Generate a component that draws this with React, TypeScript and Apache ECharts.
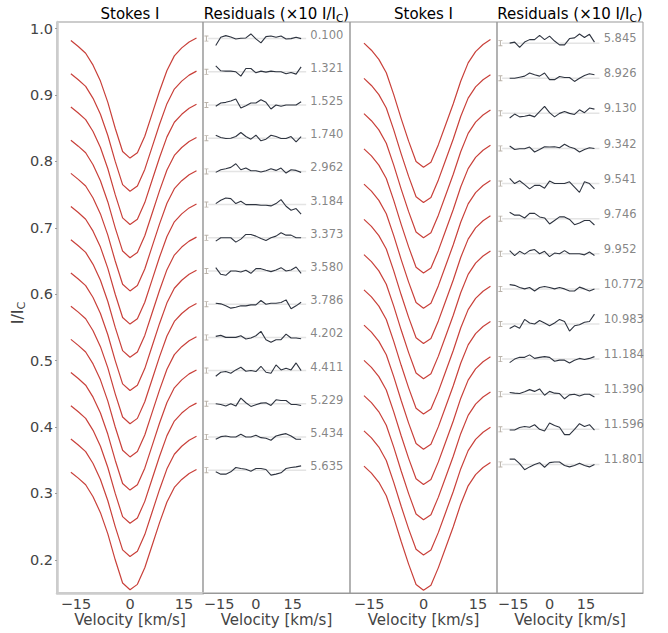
import React, { useEffect, useRef } from "react";
import * as echarts from "echarts";

// Velocity grid (km/s)
const velocity = [-16.4, -14.35, -12.3, -10.25, -8.2, -6.15, -4.1, -2.05, 0, 2.05, 4.1, 6.15, 8.2, 10.25, 12.3, 14.35, 16.4, 18.45];

// Top Stokes I profile of each column (I/Ic); lower profiles are offset by profileStep
const leftProfile = [0.982, 0.973, 0.963, 0.945, 0.921, 0.889, 0.85, 0.815, 0.805, 0.813, 0.838, 0.872, 0.906, 0.937, 0.959, 0.971, 0.98, 0.986];
const rightProfile = [0.98, 0.97, 0.957, 0.938, 0.907, 0.873, 0.841, 0.812, 0.804, 0.811, 0.836, 0.865, 0.894, 0.926, 0.952, 0.968, 0.978, 0.985];
const profileStep = 0.05;

// Rotation phases (labels)
const leftPhases = ["0.100", "1.321", "1.525", "1.740", "2.962", "3.184", "3.373", "3.580", "3.786", "4.202", "4.411", "5.229", "5.434", "5.635"];
const rightPhases = ["5.845", "8.926", "9.130", "9.342", "9.541", "9.746", "9.952", "10.772", "10.983", "11.184", "11.390", "11.596", "11.801"];

// Residuals (units of residScale)
const leftResiduals = [
  [-21, 4, 9, 5, -1, 1, 2, 14, -1, -13, 6, 8, 4, 8, -1, 0, 4, 0],
  [18, 3, 2, 2, 0, -13, 10, 10, -3, 2, -1, 2, 0, 0, -6, -2, -7, 15],
  [-4, 6, 8, 12, 18, -9, -2, 6, 6, 16, 8, -12, 0, -4, 0, 0, 0, 10],
  [9, 2, -1, 0, 5, 17, 5, -3, 9, -8, -3, 9, 5, -1, -1, 5, -11, 5],
  [-3, 5, 8, 12, 23, 5, 10, 2, 2, -2, 2, 8, 3, 10, -5, 5, 3, -3],
  [3, 13, 20, 18, 3, 10, 0, 0, 0, -2, -2, -4, 3, 15, -5, -17, -12, -29],
  [-10, 0, 0, 0, -13, -4, 10, 10, 5, -2, -8, 0, 5, 15, 8, 8, 0, 0],
  [10, -10, -13, 0, 0, -3, 2, -7, 7, 7, 2, -2, 3, 10, 0, 3, 12, -7],
  [3, 1, -5, -12, -9, -5, -5, -2, -2, 11, 0, 3, 3, 5, 13, -14, -5, 6],
  [3, 6, 0, 0, 0, 5, -5, -2, 5, 18, -7, -15, -7, -7, 10, -2, -2, -4],
  [-17, -5, -3, -8, 2, 10, -2, 0, -3, 13, -5, -8, 17, 2, 7, 2, 23, 0],
  [0, -2, -7, 0, -7, 17, 3, -8, -3, 2, 3, -5, 12, 10, 10, -2, -2, -5],
  [-7, 1, 3, 0, 0, 8, 0, 0, 5, -2, -4, -10, 3, 7, 10, 3, -7, -7],
  [-5, -12, -12, -5, 8, 5, 3, -3, 5, 5, 2, -15, -12, -8, 5, 8, 10, 13],
];
const rightResiduals = [
  [0, 3, -12, 3, 10, 10, 22, 10, 20, 6, -5, -5, 13, 15, 26, 16, 25, 3],
  [0, 0, 3, 6, 15, 10, 6, 15, -4, -4, 5, 2, 2, -9, 0, 8, 13, 10],
  [-13, -2, -10, -8, -5, -10, 5, 20, 2, -10, 0, 5, 0, -3, 10, 2, 15, 12],
  [7, -3, -1, -1, 4, -10, -3, 5, 4, 5, 2, 12, 4, 0, -10, -3, 2, 0],
  [15, 0, 8, -3, -15, -5, -5, -13, 7, 0, 0, 0, 5, -10, -25, 5, 0, -15],
  [18, 10, 10, 2, 15, 15, 5, 2, -15, -5, 5, 5, -2, -17, -12, -5, -5, -18],
  [9, -5, 7, -1, 9, 12, 0, 7, -8, 2, 0, 9, 0, 0, 0, -3, 5, -5],
  [12, 10, 4, 0, 4, -6, 4, 7, 4, 0, 4, 0, -6, -6, 5, 0, -6, 0],
  [-13, -5, -12, 13, 3, 0, 10, 3, -5, 3, 13, 7, -20, -5, -2, 5, 7, 28],
  [-10, 0, 5, 5, 12, 2, 5, 7, 5, -6, -3, -3, -11, -3, 2, -1, 2, 7],
  [5, 3, 2, 7, 13, 8, 15, -3, 8, 3, 2, -13, -2, 0, -5, 0, 0, -8],
  [-2, -2, 5, 8, 6, 13, 0, -5, 18, 11, 6, -15, -15, 0, 16, 8, 13, -2],
  [15, 15, 2, -15, -7, 0, 5, -8, 5, 7, 7, -3, -7, -3, 3, -3, -7, 0],
];
const residScale = 0.0005;
const leftResidTop = 0.985;
const rightResidTop = 0.98;
const leftResidStep = 0.05;
const rightResidStep = 0.0498;
const errorBarVel = -20.2;
const labelVel = 22.2;
const zeroLine = [-19.5, 20.5];

const yTicks = [0.2, 0.3, 0.4, 0.5, 0.6, 0.7, 0.8, 0.9, 1.0];
const xTicks = [-15, 0, 15];

const FONT = "DejaVu Sans";
const RED = "#c9403a";
const DARK = "#2e3440";
const ERRBAR = "path://M0,0L6,0L6,1.5L3.75,1.5L3.75,8.5L6,8.5L6,10L0,10L0,8.5L2.25,8.5L2.25,1.5L0,1.5Z";

function fmtX(v: number) {
  return v < 0 ? "\u2212" + Math.abs(v) : String(v);
}

function buildOption() {
  const series: any[] = [];

  const addProfiles = (profile: number[], n: number, xi: number) => {
    for (let i = 0; i < n; i++) {
      series.push({
        type: "line",
        xAxisIndex: xi,
        yAxisIndex: xi,
        data: velocity.map((v, k) => [v, profile[k] - profileStep * i]),
        symbol: "none",
        silent: true,
        lineStyle: { color: RED, width: 1.2 },
        z: 3,
      });
    }
  };
  addProfiles(leftProfile, leftPhases.length, 0);
  addProfiles(rightProfile, rightPhases.length, 2);

  const addResiduals = (res: number[][], phases: string[], top: number, step: number, xi: number, labOff: number) => {
    const bases = phases.map((_, i) => top - step * i);
    bases.forEach((b, i) => {
      series.push({
        type: "line",
        xAxisIndex: xi,
        yAxisIndex: xi,
        data: zeroLine.map((v) => [v, b]),
        symbol: "none",
        silent: true,
        lineStyle: { color: "#e4e4e4", width: 1.5 },
        z: 1,
      });
      series.push({
        type: "line",
        xAxisIndex: xi,
        yAxisIndex: xi,
        data: velocity.map((v, k) => [v, b + res[i][k] * residScale]),
        symbol: "none",
        silent: true,
        lineStyle: { color: DARK, width: 1.1 },
        z: 3,
      });
    });
    series.push({
      type: "scatter",
      xAxisIndex: xi,
      yAxisIndex: xi,
      data: bases.map((b) => [errorBarVel, b]),
      symbol: ERRBAR,
      symbolSize: [4, 6],
      itemStyle: { color: "#a89f94" },
      silent: true,
      z: 2,
    });
    series.push({
      type: "scatter",
      xAxisIndex: xi,
      yAxisIndex: xi,
      data: bases.map((b, i) => ({ value: [labelVel, b + labOff], name: phases[i] })),
      symbolSize: 0.1,
      itemStyle: { color: "rgba(0,0,0,0)" },
      silent: true,
      label: {
        show: true,
        position: "right",
        distance: 0,
        formatter: (p: any) => p.name,
        fontSize: 11.5,
        fontFamily: FONT,
        color: "#666",
      },
      z: 4,
    });
  };
  addResiduals(leftResiduals, leftPhases, leftResidTop, leftResidStep, 1, 0.006);
  addResiduals(rightResiduals, rightPhases, rightResidTop, rightResidStep, 3, 0.007);

  const gridBase = { top: 22, height: 571, show: true, borderColor: "#999", borderWidth: 1, backgroundColor: "transparent" };
  const grids = [
    { ...gridBase, left: 57, width: 146 },
    { ...gridBase, left: 203, width: 147 },
    { ...gridBase, left: 350, width: 147 },
    { ...gridBase, left: 497, width: 146 },
  ];

  const xAxes = [0, 1, 2, 3].map((i) => ({
    type: "value",
    gridIndex: i,
    min: i % 2 === 0 ? -20.25 : -21.6,
    max: i % 2 === 0 ? 20.25 : 38.4,
    axisLine: { show: true, onZero: false, lineStyle: { color: i === 0 ? "#cccccc" : "#999999", width: i === 0 ? 2.5 : 1 } },
    axisTick: { show: false },
    splitLine: { show: false },
    axisLabel: {
      customValues: xTicks,
      formatter: fmtX,
      fontSize: 14.5,
      fontFamily: FONT,
      color: "#444",
      margin: 3,
    },
  }));

  const yAxes = [0, 1, 2, 3].map((i) => ({
    type: "value",
    gridIndex: i,
    min: i < 2 ? 0.15 : 0.2,
    max: 1.01,
    axisLine: { show: i === 0, onZero: false, lineStyle: { color: "#cccccc", width: 2.5 } },
    axisTick: { show: i === 0, customValues: yTicks, length: 2, lineStyle: { color: "#999" } },
    splitLine: { show: false },
    axisLabel: {
      show: i === 0,
      customValues: yTicks,
      formatter: (v: number) => v.toFixed(1),
      fontSize: 14.5,
      fontFamily: FONT,
      color: "#444",
      margin: 4,
    },
  }));

  const txt = (x: number, y: number, text: string, size: number, color: string) => ({
    type: "text",
    x,
    y,
    silent: true,
    style: {
      text,
      fill: color,
      font: `${size}px "${FONT}"`,
      align: "center",
      verticalAlign: "middle",
      textAlign: "center",
      textVerticalAlign: "middle",
    },
  });

  const richTitle = (x: number, y: number, main: string, tail: string, rotation = 0, size = 15, color = "#000") => ({
    type: "text",
    x,
    y,
    rotation,
    silent: true,
    style: {
      text: `{a|${main}}{s|C}{a|${tail}}`,
      align: "center",
      verticalAlign: "middle",
      textAlign: "center",
      textVerticalAlign: "middle",
      rich: {
        a: { fontSize: size, fontFamily: FONT, fill: color, color },
        s: { fontSize: size * 0.7, fontFamily: FONT, fill: color, color, padding: [8, 0, 0, 0] },
      },
    },
  });

  const graphic = [
    txt(130, 14, "Stokes I", 15, "#000"),
    txt(423.5, 14, "Stokes I", 15, "#000"),
    richTitle(276.5, 14, "Residuals (\u00d710 I/I", ")"),
    richTitle(570, 14, "Residuals (\u00d710 I/I", ")"),
    richTitle(17, 313, "I/I", "", Math.PI / 2, 16, "#444"),
    txt(130, 620, "Velocity [km/s]", 15, "#444"),
    txt(276.5, 620, "Velocity [km/s]", 15, "#444"),
    txt(423.5, 620, "Velocity [km/s]", 15, "#444"),
    txt(570, 620, "Velocity [km/s]", 15, "#444"),
  ];

  return {
    animation: false,
    backgroundColor: "#fff",
    grid: grids,
    xAxis: xAxes,
    yAxis: yAxes,
    series,
    graphic,
  };
}

export default function App() {
  const ref = useRef<HTMLDivElement>(null);
  useEffect(() => {
    if (!ref.current) return;
    const chart = echarts.init(ref.current, undefined, { renderer: "svg" });
    chart.setOption(buildOption() as any);
    return () => chart.dispose();
  }, []);
  return <div ref={ref} style={{ position: "absolute", left: 0, top: 0, width: 668, height: 633 }} />;
}
